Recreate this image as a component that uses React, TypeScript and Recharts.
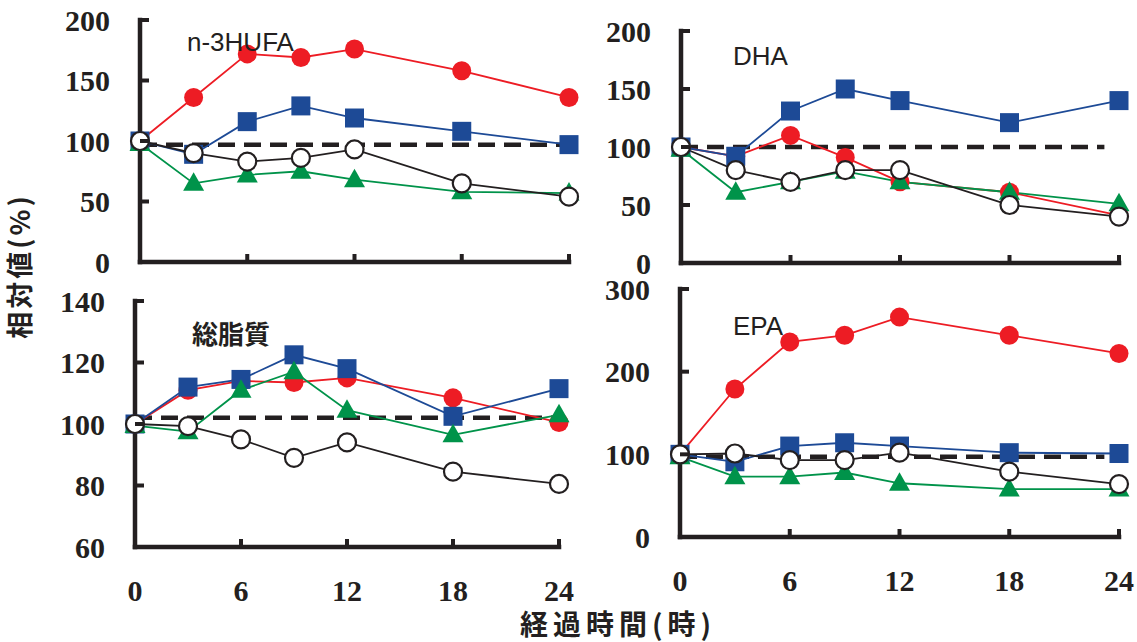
import React from 'react';
import { LineChart, Line, XAxis, YAxis, ReferenceLine } from 'recharts';

// ---- data ----
const hours = [0, 3, 6, 9, 12, 18, 24];
const xTicks = [0, 6, 12, 18, 24];

// n-3HUFA
const n3Red = [100, 136, 172, 169, 176, 158, 136];
const n3Blue = [100, 89, 116, 129, 119, 108, 97];
const n3Green = [98, 65, 72, 75, 68, 58, 57];
const n3Black = [100, 90, 83, 86, 93, 65, 54];
const n3Ticks = [0, 50, 100, 150, 200];

// DHA
const dhaRed = [100, 92, 110, 91, 70, 61, 41];
const dhaBlue = [100, 92, 131, 150, 140, 121, 140];
const dhaGreen = [98, 61, 70, 79, 70, 61, 51];
const dhaBlack = [100, 80, 70, 80, 80, 50, 40];
const dhaTicks = [0, 50, 100, 150, 200];

// 総脂質
const tlRed = [100, 111, 114, 113.5, 115, 108.5, 100.5];
const tlBlue = [100, 112, 114.5, 122.5, 118, 102.5, 111.5];
const tlGreen = [99.5, 97.5, 111, 117, 104.5, 96.5, 103];
const tlBlack = [100, 99.3, 95, 89, 94, 84.5, 80.5];
const tlTicks = [60, 80, 100, 120, 140];

// EPA
const epaRed = [100, 179, 236, 244, 266, 244, 222];
const epaBlue = [100, 91, 110, 114, 110, 102, 101];
const epaGreen = [97, 73, 73, 78, 65, 58, 58];
const epaBlack = [100, 101, 93, 93, 102, 79, 64];
const epaTicks = [0, 100, 200, 300];

// reference (dashed) levels and their end hour
const refLevels = [97, 100, 102, 97];
const refEnds = [24, 23.2, 24, 23.2];

// ---- styles ----
const INK = '#231F20';
const RED = '#ED1C24';
const BLUE = '#1D4A96';
const GREEN = '#00934A';
const SERIF = "'Liberation Serif', 'Times New Roman', Times, serif";
const SANS = "'Liberation Sans', Arial, sans-serif";
const CJK = "'Noto Sans CJK JP', 'Noto Sans CJK SC', sans-serif";

type PanelDef = {
  title: string;
  titleFont: string;
  titleWeight: number;
  titleX: number;
  titleY: number;
  red: number[];
  blue: number[];
  green: number[];
  black: number[];
  yTicks: number[];
  ref: number;
  refEnd: number;
  box: { left: number; right: number; top: number; bottom: number };
  showX: boolean;
};

const panels: PanelDef[] = [
  {
    title: 'n-3HUFA', titleFont: SANS, titleWeight: 400, titleX: 187, titleY: 42,
    red: n3Red, blue: n3Blue, green: n3Green, black: n3Black, yTicks: n3Ticks,
    ref: refLevels[0], refEnd: refEnds[0],
    box: { left: 140, right: 569, top: 20, bottom: 262 }, showX: false,
  },
  {
    title: 'DHA', titleFont: SANS, titleWeight: 400, titleX: 733, titleY: 56,
    red: dhaRed, blue: dhaBlue, green: dhaGreen, black: dhaBlack, yTicks: dhaTicks,
    ref: refLevels[1], refEnd: refEnds[1],
    box: { left: 681, right: 1119, top: 31, bottom: 263 }, showX: false,
  },
  {
    title: '総脂質', titleFont: CJK, titleWeight: 700, titleX: 192, titleY: 332,
    red: tlRed, blue: tlBlue, green: tlGreen, black: tlBlack, yTicks: tlTicks,
    ref: refLevels[2], refEnd: refEnds[2],
    box: { left: 135, right: 559, top: 301, bottom: 547 }, showX: true,
  },
  {
    title: 'EPA', titleFont: SANS, titleWeight: 400, titleX: 733, titleY: 326,
    red: epaRed, blue: epaBlue, green: epaGreen, black: epaBlack, yTicks: epaTicks,
    ref: refLevels[3], refEnd: refEnds[3],
    box: { left: 680, right: 1119, top: 289, bottom: 537 }, showX: true,
  },
];

// ---- markers ----
const CircleDot = (props: any) => {
  const { cx, cy, index } = props;
  if (cx == null || cy == null) return <g key={`c-${index}`} />;
  return <circle key={`c-${index}`} cx={cx} cy={cy} r={9.5} fill={RED} stroke="none" />;
};
const SquareDot = (props: any) => {
  const { cx, cy, index } = props;
  if (cx == null || cy == null) return <g key={`s-${index}`} />;
  return <rect key={`s-${index}`} x={cx - 9.5} y={cy - 9.5} width={19} height={19} fill={BLUE} stroke="none" />;
};
const TriDot = (props: any) => {
  const { cx, cy, index } = props;
  if (cx == null || cy == null) return <g key={`t-${index}`} />;
  const pts = `${cx},${cy - 11} ${cx - 10.5},${cy + 7.5} ${cx + 10.5},${cy + 7.5}`;
  return <polygon key={`t-${index}`} points={pts} fill={GREEN} stroke="none" />;
};
const OpenDot = (props: any) => {
  const { cx, cy, index } = props;
  if (cx == null || cy == null) return <g key={`o-${index}`} />;
  return <circle key={`o-${index}`} cx={cx} cy={cy} r={9} fill="#FFFFFF" stroke={INK} strokeWidth={2.2} />;
};

const tickTextStyle: React.CSSProperties = {
  fontFamily: SERIF,
  fontWeight: 700,
  fontSize: 30,
};

// ---- ticks ----
const makeXTick = (show: boolean) => (props: any) => {
  const { x, y, payload, index } = props;
  return (
    <g key={`xt-${index}`}>
      {payload.value !== 0 && <line x1={x} y1={y} x2={x} y2={y - 8} stroke={INK} strokeWidth={4} />}
      {show && (
        <text x={x} y={y + 43} textAnchor="middle" dominantBaseline="central" style={tickTextStyle} fill={INK}>
          {payload.value}
        </text>
      )}
    </g>
  );
};

const makeYTick = (minVal: number) => (props: any) => {
  const { x, y, payload, index } = props;
  return (
    <g key={`yt-${index}`}>
      {payload.value !== minVal && <line x1={x} y1={y} x2={x + 9} y2={y} stroke={INK} strokeWidth={4} />}
      <text x={x - 30} y={y} textAnchor="end" dominantBaseline="central" style={tickTextStyle} fill={INK}>
        {payload.value}
      </text>
    </g>
  );
};

function Panel({ p }: { p: PanelDef }) {
  const YW = 95;
  const MT = 20;
  const MR = 16;
  const XH = p.showX ? 64 : 16;
  const w = YW + (p.box.right - p.box.left) + MR;
  const h = MT + (p.box.bottom - p.box.top) + XH;
  const rows = hours.map((hr, i) => ({
    h: hr,
    red: p.red[i],
    blue: p.blue[i],
    green: p.green[i],
    black: p.black[i],
  }));
  const yMin = p.yTicks[0];
  const yMax = p.yTicks[p.yTicks.length - 1];
  return (
    <div style={{ position: 'absolute', left: p.box.left - YW, top: p.box.top - MT }}>
      <LineChart width={w} height={h} data={rows} margin={{ top: MT, right: MR, bottom: 0, left: 0 }}>
        <XAxis
          dataKey="h" type="number" domain={[0, 24]} ticks={xTicks} interval={0}
          height={XH} tickSize={0} tickMargin={0} tickLine={false}
          axisLine={{ stroke: INK, strokeWidth: 4.5, strokeLinecap: 'square' }}
          tick={makeXTick(p.showX)}
        />
        <YAxis
          type="number" domain={[yMin, yMax]} ticks={p.yTicks} interval={0}
          width={YW} tickSize={0} tickMargin={0} tickLine={false}
          axisLine={{ stroke: INK, strokeWidth: 4.5, strokeLinecap: 'square' }}
          tick={makeYTick(yMin)}
        />
        <ReferenceLine
          segment={[{ x: 0, y: p.ref }, { x: p.refEnd, y: p.ref }]}
          stroke={INK} strokeWidth={4.5} strokeDasharray="17 9"
        />
        <Line dataKey="red" stroke={RED} strokeWidth={1.8} dot={CircleDot} isAnimationActive={false} activeDot={false} />
        <Line dataKey="blue" stroke={BLUE} strokeWidth={1.8} dot={SquareDot} isAnimationActive={false} activeDot={false} />
        <Line dataKey="green" stroke={GREEN} strokeWidth={1.8} dot={TriDot} isAnimationActive={false} activeDot={false} />
        <Line dataKey="black" stroke={INK} strokeWidth={1.8} dot={OpenDot} isAnimationActive={false} activeDot={false} />
      </LineChart>
    </div>
  );
}

export default function App() {
  return (
    <div style={{ position: 'absolute', left: 0, top: 0, width: 1137, height: 642, background: '#FFFFFF', overflow: 'hidden' }}>
      {panels.map((p, i) => (
        <Panel key={i} p={p} />
      ))}
      <svg width={1137} height={642} style={{ position: 'absolute', left: 0, top: 0, pointerEvents: 'none' }}>
        {panels.map((p, i) => (
          <text key={i} x={p.titleX} y={p.titleY} dominantBaseline="central"
            style={{ fontFamily: p.titleFont, fontWeight: p.titleWeight, fontSize: 26 }} fill={INK}>
            {p.title}
          </text>
        ))}
        <text x={18} y={266} transform="rotate(-90 18 266)" textAnchor="middle" dominantBaseline="central"
          style={{ fontFamily: CJK, fontWeight: 700, fontSize: 27, letterSpacing: 3 }} fill={INK}>
          相対値(%)
        </text>
        <text x={618} y={623} textAnchor="middle" dominantBaseline="central"
          style={{ fontFamily: CJK, fontWeight: 700, fontSize: 28, letterSpacing: 5 }} fill={INK}>
          経過時間(時)
        </text>
      </svg>
    </div>
  );
}
